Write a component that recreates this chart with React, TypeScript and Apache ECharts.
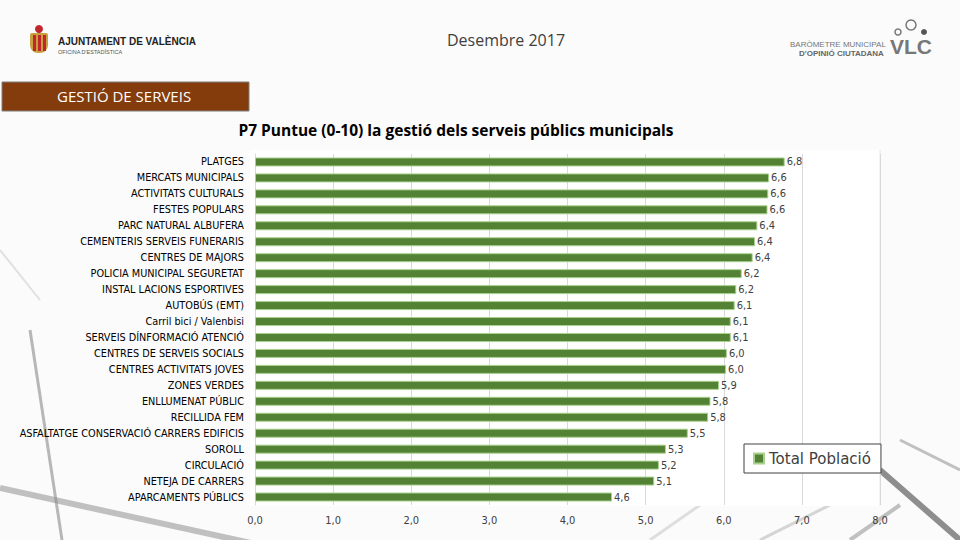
import React, { useEffect, useRef } from "react";
import * as echarts from "echarts";

const categories = [
  "PLATGES",
  "MERCATS MUNICIPALS",
  "ACTIVITATS CULTURALS",
  "FESTES POPULARS",
  "PARC NATURAL ALBUFERA",
  "CEMENTERIS SERVEIS FUNERARIS",
  "CENTRES DE MAJORS",
  "POLICIA MUNICIPAL SEGURETAT",
  "INSTAL LACIONS ESPORTIVES",
  "AUTOBÚS (EMT)",
  "Carril bici / Valenbisi",
  "SERVEIS DÍNFORMACIÓ ATENCIÓ",
  "CENTRES DE SERVEIS SOCIALS",
  "CENTRES ACTIVITATS JOVES",
  "ZONES VERDES",
  "ENLLUMENAT PÚBLIC",
  "RECILLIDA FEM",
  "ASFALTATGE CONSERVACIÓ CARRERS EDIFICIS",
  "SOROLL",
  "CIRCULACIÓ",
  "NETEJA DE CARRERS",
  "APARCAMENTS PÚBLICS",
];

const totalPoblacio = [
  6.78, 6.58, 6.57, 6.56, 6.43, 6.4, 6.37, 6.23, 6.16, 6.14, 6.09, 6.09,
  6.04, 6.03, 5.94, 5.83, 5.8, 5.54, 5.26, 5.17, 5.11, 4.57,
];

const seriesName = "Total Població";
const chartTitle = "P7 Puntue (0-10) la gestió dels serveis públics municipals";
const headerDate = "Desembre 2017";
const sectionLabel = "GESTIÓ DE SERVEIS";

const fmt = (v: number) => v.toFixed(1).replace(".", ",");

export default function App() {
  const ref = useRef<HTMLDivElement>(null);
  useEffect(() => {
    if (!ref.current) return;
    const chart = echarts.init(ref.current, undefined, { renderer: "svg" });
    const labelFont = "DejaVu Sans Condensed";
    chart.setOption({
      animation: false,
      backgroundColor: "#fbfbfb",
      graphic: [
        // background streaks
        { type: "line", z: -10, shape: { x1: 0, y1: 488, x2: 260, y2: 545 }, style: { stroke: "#9a9a9a", lineWidth: 6, opacity: 0.6 } },
        { type: "line", z: -10, shape: { x1: 30, y1: 330, x2: 62, y2: 540 }, style: { stroke: "#8a8a8a", lineWidth: 3, opacity: 0.6 } },
        { type: "line", z: -10, shape: { x1: 0, y1: 250, x2: 40, y2: 300 }, style: { stroke: "#cfcfcf", lineWidth: 2, opacity: 0.6 } },
        { type: "line", z: -10, shape: { x1: 880, y1: 470, x2: 960, y2: 540 }, style: { stroke: "#606060", lineWidth: 6, opacity: 0.7 } },
        { type: "line", z: -10, shape: { x1: 900, y1: 440, x2: 960, y2: 470 }, style: { stroke: "#9a9a9a", lineWidth: 3, opacity: 0.6 } },
        { type: "line", z: -10, shape: { x1: 650, y1: 540, x2: 700, y2: 505 }, style: { stroke: "#cccccc", lineWidth: 3, opacity: 0.6 } },
        { type: "line", z: -10, shape: { x1: 760, y1: 540, x2: 830, y2: 505 }, style: { stroke: "#bdbdbd", lineWidth: 3, opacity: 0.6 } },
        { type: "line", z: -10, shape: { x1: 850, y1: 540, x2: 900, y2: 505 }, style: { stroke: "#9a9a9a", lineWidth: 4, opacity: 0.6 } },
        // white plot area
        { type: "rect", z: -5, shape: { x: 250, y: 150, width: 630, height: 356 }, style: { fill: "#ffffff" } },
        { type: "line", z: -4, shape: { x1: 880, y1: 150, x2: 880, y2: 506 }, style: { stroke: "#e6e6e6", lineWidth: 1 } },
        // left logo crest
        { type: "rect", shape: { x: 30, y: 33, width: 18, height: 20, r: [2, 2, 8, 8] }, style: { fill: "#c8a040" } },
        { type: "rect", shape: { x: 33, y: 35, width: 3, height: 16 }, style: { fill: "#c0262c" } },
        { type: "rect", shape: { x: 38, y: 35, width: 3, height: 16 }, style: { fill: "#c0262c" } },
        { type: "rect", shape: { x: 43, y: 35, width: 3, height: 16 }, style: { fill: "#c0262c" } },
        { type: "circle", shape: { cx: 39, cy: 29, r: 4 }, style: { fill: "#c0262c" } },
        { type: "text", left: 58, top: 36, style: { text: "AJUNTAMENT DE VALÈNCIA", font: "bold 10px 'Liberation Sans'", fill: "#222" } },
        { type: "text", left: 58, top: 49, style: { text: "OFICINA D'ESTADÍSTICA", font: "5.5px 'Liberation Sans'", fill: "#555" } },
        // header date
        { type: "text", x: 506, y: 40, style: { text: headerDate, font: "16px 'Open Sans'", fill: "#404040", align: "center", verticalAlign: "middle" } },
        // right logo
        { type: "text", left: 790, top: 40, style: { text: "BARÒMETRE MUNICIPAL", font: "8px 'Liberation Sans'", fill: "#777" } },
        { type: "text", left: 799, top: 49, style: { text: "D'OPINIÓ CIUTADANA", font: "bold 8px 'Liberation Sans'", fill: "#666" } },
        { type: "text", left: 890, top: 36, style: { text: "VLC", font: "bold 21px 'Liberation Sans'", fill: "#777" } },
        { type: "circle", shape: { cx: 898, cy: 32, r: 3 }, style: { fill: "none", stroke: "#777", lineWidth: 1.5 } },
        { type: "circle", shape: { cx: 911, cy: 25, r: 5 }, style: { fill: "none", stroke: "#777", lineWidth: 1.5 } },
        { type: "circle", shape: { cx: 924, cy: 32, r: 3 }, style: { fill: "#555" } },
        // section banner
        { type: "rect", shape: { x: 2, y: 82, width: 247, height: 29 }, style: { fill: "#843c0c", stroke: "#7f7f7f", lineWidth: 1 } },
        { type: "text", left: 57, top: 88, style: { text: sectionLabel, font: "15px 'Open Sans'", fill: "#ffffff" } },
        // chart title
        { type: "text", x: 456, y: 130, style: { text: chartTitle, font: "bold 15.5px 'Open Sans'", fill: "#000", align: "center", verticalAlign: "middle" } },
      ],
      legend: {
        data: [{ name: seriesName, icon: "rect" }],
        left: 744,
        top: 444,
        orient: "vertical",
        backgroundColor: "#ffffff",
        borderColor: "#404040",
        borderWidth: 1,
        padding: [7, 10, 7, 9],
        itemWidth: 10,
        itemHeight: 10,
        itemGap: 4,
        textStyle: { fontSize: 15, color: "#404040", fontFamily: "DejaVu Sans" },
      },
      grid: { left: 255, right: 80, top: 154, bottom: 35, containLabel: false },
      xAxis: {
        type: "value",
        min: 0,
        max: 8,
        interval: 1,
        axisLine: { show: false },
        axisTick: { show: false },
        splitLine: { lineStyle: { color: "#d9d9d9" } },
        axisLabel: { formatter: (v: number) => fmt(v), fontSize: 11, color: "#404040", margin: 10, fontFamily: labelFont },
      },
      yAxis: {
        type: "category",
        data: categories,
        inverse: true,
        axisLine: { show: true, lineStyle: { color: "#d9d9d9" } },
        axisTick: { show: false },
        axisLabel: { fontSize: 10.8, color: "#000", margin: 11, fontFamily: labelFont },
      },
      series: [
        {
          name: seriesName,
          type: "bar",
          data: totalPoblacio,
          barWidth: 9,
          itemStyle: { color: "#548235", borderColor: "#a9d18e", borderWidth: 1 },
          label: {
            show: true,
            position: "right",
            distance: 2,
            fontSize: 11,
            color: "#404040",
            fontFamily: labelFont,
            formatter: (p: any) => fmt(p.value),
          },
        },
      ],
    });
    return () => chart.dispose();
  }, []);
  return <div ref={ref} style={{ position: "fixed", left: 0, top: 0, width: 960, height: 540 }} />;
}
